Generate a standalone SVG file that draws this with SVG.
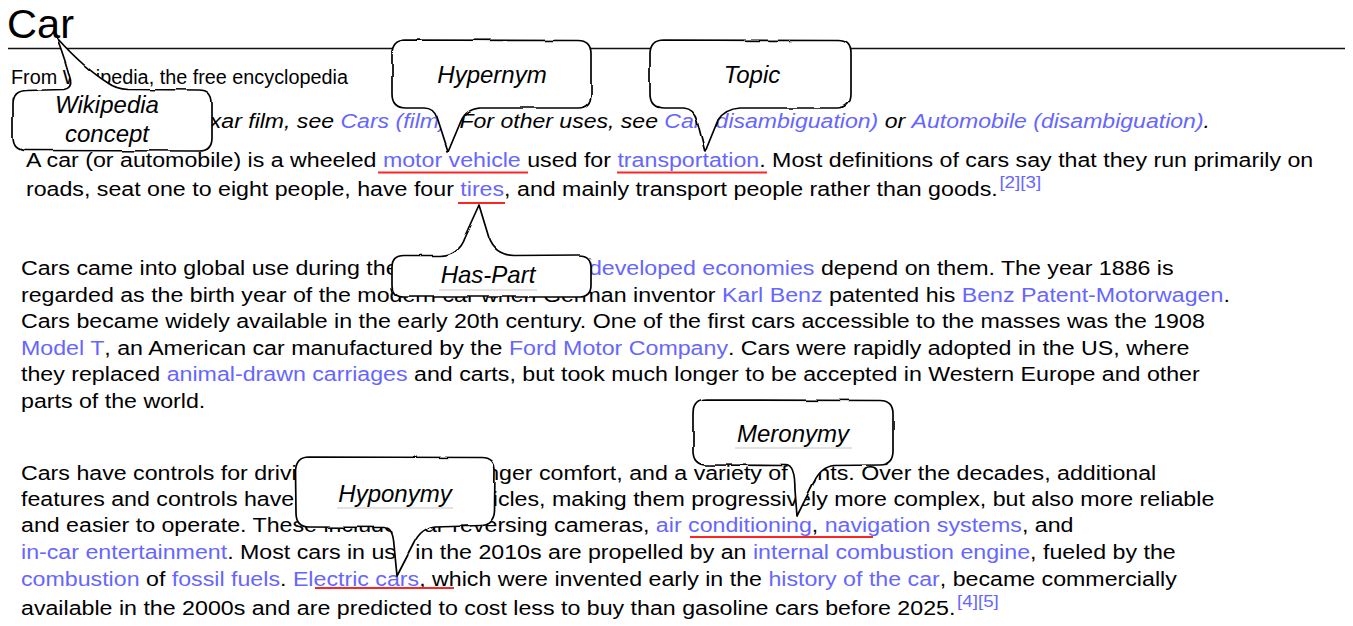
<svg xmlns="http://www.w3.org/2000/svg" width="1353" height="626" viewBox="0 0 1353 626">
  <style>
    .t { font-family: "Liberation Sans", Arial, sans-serif; fill: #000; }
    .body { font-size: 21px; }
    .it { font-style: italic; }
    .lk { fill: #6666ff; }
    .sup { font-size: 17px; fill: #6666ff; }
    .mark { stroke: #ff2424; stroke-width: 2; fill: none; }
    .bubble { fill: #fff; stroke: #000; stroke-width: 1.7; stroke-linejoin: round; }
    .label { font-family: "Liberation Sans", Arial, sans-serif; font-size: 24px; font-style: italic; fill: #000; text-anchor: middle; }
    .uline { stroke: #e2e2e2; stroke-width: 2; }
  </style>
  <defs>
    <filter id="rough" x="-10%" y="-10%" width="120%" height="120%">
      <feTurbulence type="fractalNoise" baseFrequency="0.035" numOctaves="2" seed="7" result="noise"/>
      <feDisplacementMap in="SourceGraphic" in2="noise" scale="3" xChannelSelector="R" yChannelSelector="G"/>
    </filter>
  </defs>
  <rect width="1353" height="626" fill="#fff"/>

  <!-- article header -->
  <g id="header">
    <text class="t" x="7" y="38" font-size="40" textLength="67" lengthAdjust="spacingAndGlyphs">Car</text>
    <line x1="8" y1="48.5" x2="1345" y2="48.5" stroke="#111" stroke-width="1.4"/>
    <text class="t" x="11" y="84" font-size="19.5" textLength="337" lengthAdjust="spacingAndGlyphs">From Wikipedia, the free encyclopedia</text>
  </g>

  <!-- article text -->
  <g id="article" class="t body" transform="scale(1.105 1)">
    <text class="it" x="99.5" y="128" textLength="995.5" lengthAdjust="spacingAndGlyphs">For the Pixar film, see <tspan class="lk">Cars (film)</tspan>. For other uses, see <tspan class="lk">Car (disambiguation)</tspan> or <tspan class="lk">Automobile (disambiguation)</tspan>.</text>

    <text x="23.5" y="167">A car (or automobile) is a wheeled <tspan class="lk">motor vehicle</tspan> used for <tspan class="lk">transportation</tspan>. Most definitions of cars say that they run primarily on</text>
    <text x="23.5" y="196">roads, seat one to eight people, have four <tspan class="lk">tires</tspan>, and mainly transport people rather than goods.<tspan class="sup" dx="1.5" dy="-8">[2][3]</tspan></text>

    <text x="19" y="275">Cars came into global use during the 20th century, and <tspan class="lk">developed economies</tspan> depend on them. The year 1886 is</text>
    <text x="19" y="302">regarded as the birth year of the modern car when German inventor <tspan class="lk">Karl Benz</tspan> patented his <tspan class="lk">Benz Patent-Motorwagen</tspan>.</text>
    <text x="19" y="328">Cars became widely available in the early 20th century. One of the first cars accessible to the masses was the 1908</text>
    <text x="19" y="355"><tspan class="lk">Model T</tspan>, an American car manufactured by the <tspan class="lk">Ford Motor Company</tspan>. Cars were rapidly adopted in the US, where</text>
    <text x="19" y="381">they replaced <tspan class="lk">animal-drawn carriages</tspan> and carts, but took much longer to be accepted in Western Europe and other</text>
    <text x="19" y="408">parts of the world.</text>

    <text x="19" y="480">Cars have controls for driving, parking, passenger comfort, and a variety of lights. Over the decades, additional</text>
    <text x="19" y="506">features and controls have been added to vehicles, making them progressively more complex, but also more reliable</text>
    <text x="19" y="532.5">and easier to operate. These include rear-reversing cameras, <tspan class="lk">air conditioning</tspan>, <tspan class="lk">navigation systems</tspan>, and</text>
    <text x="19" y="559"><tspan class="lk">in-car entertainment</tspan>. Most cars in use in the 2010s are propelled by an <tspan class="lk">internal combustion engine</tspan>, fueled by the</text>
    <text x="19" y="586"><tspan class="lk">combustion</tspan> of <tspan class="lk">fossil fuels</tspan>. <tspan class="lk">Electric cars</tspan>, which were invented early in the <tspan class="lk">history of the car</tspan>, became commercially</text>
    <text x="19" y="615">available in the 2000s and are predicted to cost less to buy than gasoline cars before 2025.<tspan class="sup" dx="1.5" dy="-8">[4][5]</tspan></text>
  </g>

  <!-- red marks under the annotated terms -->
  <g id="connectors">
    <line class="mark" x1="378" y1="172.5" x2="528" y2="172.5"/>
    <line class="mark" x1="617" y1="172.5" x2="767" y2="172.5"/>
    <line class="mark" x1="458" y1="203" x2="505" y2="203"/>
    <line class="mark" x1="690" y1="537" x2="873" y2="537"/>
    <line class="mark" x1="315" y1="588" x2="454" y2="588"/>
  </g>

  <!-- speech-bubble callouts -->
  <g id="wikipedia-concept">
    <path class="bubble" filter="url(#rough)" d="M27,90.5 L64,89.5 Q72,88 70.5,80 Q66,62 57,38 Q84,68 108,83 Q116,89 128,89.5 L199,90 Q212,90 212,103 L212,138 Q212,151 199,151 L26,150.5 Q13,150.5 13,137 L13,104 Q13,90.5 27,90.5 Z"/>
    <text class="label" x="107" y="113">Wikipedia</text>
    <text class="label" x="107" y="142">concept</text>
  </g>

  <g id="hypernym">
    <path class="bubble" filter="url(#rough)" d="M406,40 L577,40.5 Q591,40 591,54 L591,94 Q591,108 577,108 L480,108 Q466,109 461,121 L448,152 L437,118 Q434,108 424,108 L406,108 Q392,108 392,94 L392,54 Q392,40 406,40 Z"/>
    <text class="label" x="492" y="83">Hypernym</text>
  </g>

  <g id="topic">
    <path class="bubble" filter="url(#rough)" d="M664,40 L837,40.5 Q851,40 851,54 L851,94 Q851,108 837,108 L740,108 Q725,109 718,120 L705,152 L697,120 Q694,109 684,108 L664,108 Q650,108 650,94 L650,54 Q650,40 664,40 Z"/>
    <text class="label" x="752" y="83">Topic</text>
  </g>

  <g id="has-part">
    <path class="bubble" filter="url(#rough)" d="M404,255.5 L440,255.5 Q458,255 464,238 L479,205 L489,238 Q495,255 514,255.5 L579,255 Q591,255 591,267 L591,285 Q591,297 579,297 L404,297 Q392,297 392,285 L392,267 Q392,255.5 404,255.5 Z"/>
    <line class="uline" x1="439" y1="290" x2="537" y2="290"/>
    <text class="label" x="488" y="283">Has-Part</text>
  </g>

  <g id="hyponymy">
    <path class="bubble" filter="url(#rough)" d="M309,457 L481,457.5 Q495,457 495,471 L494.5,511 Q494,524 481,524.5 L436,526 Q421,528 414,543 L397,576 L394,545 Q393,528 385,527.5 L309,527 Q296,527 296,513 L295.5,471 Q296,457 309,457 Z"/>
    <line class="uline" x1="337" y1="508" x2="453" y2="508"/>
    <text class="label" x="395" y="502">Hyponymy</text>
  </g>

  <g id="meronymy">
    <path class="bubble" filter="url(#rough)" d="M707,400 L879,400.5 Q893,400 893,414 L893,451 Q893,465 879,465 L834,465.5 Q821,467 814,482 L797,516 L795,490 Q795,466 786,465.5 L707,465 Q693,465 693,451 L693,414 Q693,400 707,400 Z"/>
    <line class="uline" x1="735" y1="448" x2="852" y2="448"/>
    <text class="label" x="793" y="442">Meronymy</text>
  </g>
</svg>
